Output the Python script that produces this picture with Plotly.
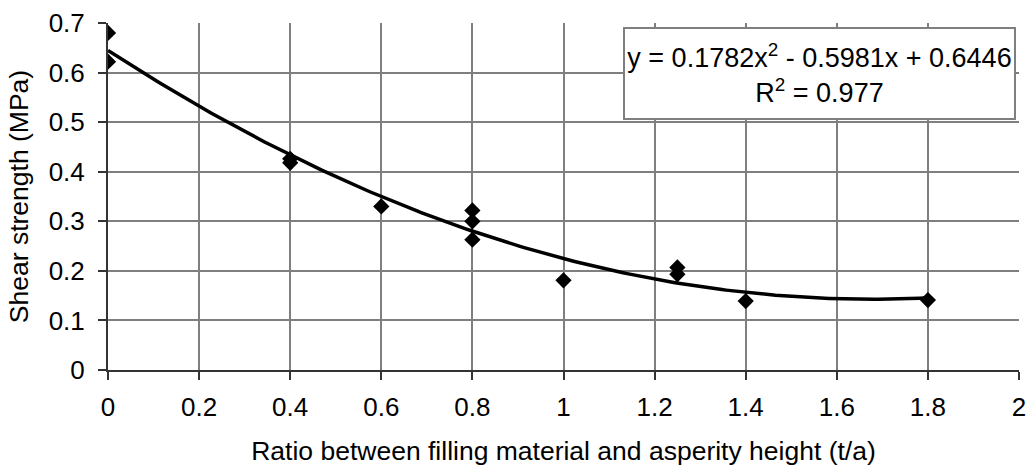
import numpy as np
import plotly.graph_objects as go

# ---- data ----
ratio_t_a = [0, 0, 0.4, 0.4, 0.6, 0.8, 0.8, 0.8, 1.0, 1.25, 1.25, 1.4, 1.8]
shear_mpa = [0.68, 0.622, 0.426, 0.418, 0.330, 0.322, 0.300, 0.263, 0.181, 0.207, 0.193, 0.139, 0.141]

# displayed polynomial trendline (Excel): y = a x^2 + b x + c
trend_coeffs = [0.1782, -0.5981, 0.6446]
trend_r2 = 0.977

x_ticks = [0, 0.2, 0.4, 0.6, 0.8, 1, 1.2, 1.4, 1.6, 1.8, 2]
x_tick_text = ["0", "0.2", "0.4", "0.6", "0.8", "1", "1.2", "1.4", "1.6", "1.8", "2"]
y_ticks = [0, 0.1, 0.2, 0.3, 0.4, 0.5, 0.6, 0.7]
y_tick_text = ["0", "0.1", "0.2", "0.3", "0.4", "0.5", "0.6", "0.7"]

FONT = "Liberation Sans, Arial, sans-serif"

# trendline evaluated over the range of the data
tx = np.linspace(min(ratio_t_a), max(ratio_t_a), 200)
ty = np.polyval(trend_coeffs, tx)

fig = go.Figure()
fig.add_trace(go.Scatter(
    x=tx, y=ty, mode="lines",
    line=dict(color="black", width=3.5),
    hoverinfo="skip", showlegend=False,
))
fig.add_trace(go.Scatter(
    x=ratio_t_a, y=shear_mpa, mode="markers",
    marker=dict(symbol="diamond", size=12.5, color="black", line=dict(width=0)),
    showlegend=False,
))

a, b, c = trend_coeffs
eq_text = (f"y = {a:.4f}x<sup>2</sup> - {abs(b):.4f}x + {c:.4f}"
           f"<br>R<sup>2</sup> = {trend_r2}")

fig.add_annotation(
    text=eq_text, xref="paper", yref="paper",
    x=0.997, y=0.9895, xanchor="right", yanchor="top",
    showarrow=False, align="center",
    font=dict(family=FONT, size=27, color="black"),
    bgcolor="white", bordercolor="#7f7f7f", borderwidth=2,
    width=389, height=89, borderpad=0,
)

fig.update_layout(
    width=1028, height=469,
    margin=dict(l=108, r=9, t=23, b=99),
    paper_bgcolor="white", plot_bgcolor="white",
    font=dict(family=FONT, size=26, color="black"),
    showlegend=False,
)
fig.update_xaxes(
    range=[0, 2], tickvals=x_ticks, ticktext=x_tick_text,
    showgrid=True, gridcolor="#7f7f7f", gridwidth=2,
    showline=True, linecolor="#333333", linewidth=2,
    ticks="outside", ticklen=8, tickwidth=2, tickcolor="#333333",
    zeroline=False, ticklabelstandoff=5,
    title=dict(text="Ratio between filling material and asperity height (t/a)",
               font=dict(size=26.5), standoff=20),
    automargin=False,
)
fig.update_yaxes(
    range=[0, 0.7], tickvals=y_ticks, ticktext=y_tick_text,
    showgrid=True, gridcolor="#7f7f7f", gridwidth=2,
    showline=True, linecolor="#333333", linewidth=2,
    ticks="outside", ticklen=8, tickwidth=2, tickcolor="#333333",
    zeroline=False, ticklabelstandoff=8,
    title=dict(text="Shear strength (MPa)", font=dict(size=26.5), standoff=12),
    automargin=False,
)

fig.write_html("out.html")
